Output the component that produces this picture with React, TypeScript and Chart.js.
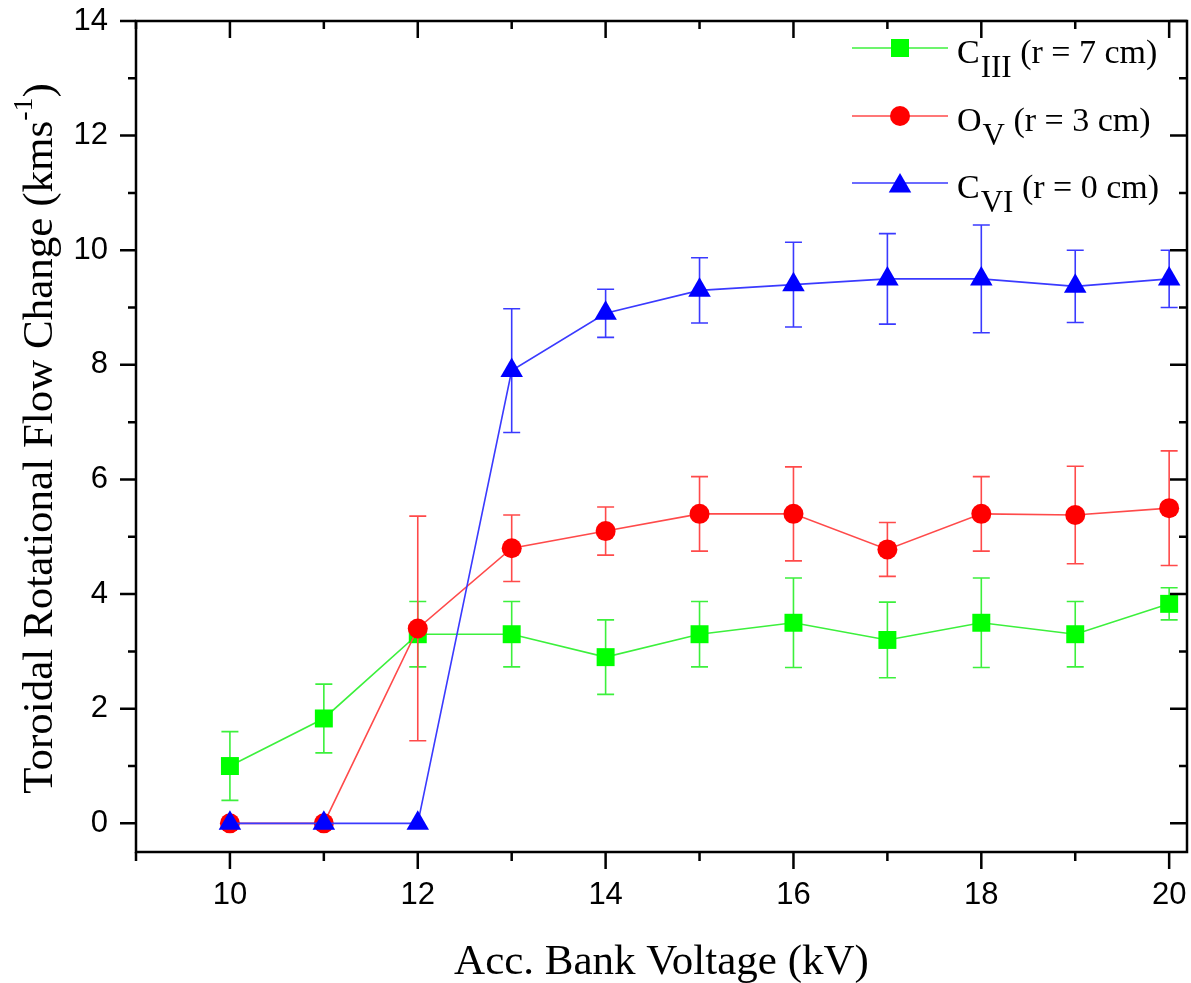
import React, { useEffect, useRef } from 'react';
import { Chart, registerables } from 'chart.js';

Chart.register(...registerables);

// ---------- data ----------
const voltages = [10, 11, 12, 13, 14, 15, 16, 17, 18, 19, 20];

const cIIIValues = [1.0, 1.83, 3.3, 3.3, 2.9, 3.3, 3.5, 3.2, 3.5, 3.3, 3.83];
const cIIIErrors = [0.6, 0.6, 0.57, 0.57, 0.65, 0.57, 0.78, 0.66, 0.78, 0.57, 0.28];

const oVValues = [0, 0, 3.4, 4.8, 5.1, 5.4, 5.4, 4.78, 5.4, 5.38, 5.5];
const oVErrors = [0, 0, 1.96, 0.58, 0.42, 0.65, 0.82, 0.47, 0.65, 0.85, 1.0];

const cVIValues = [0, 0, 0, 7.9, 8.9, 9.3, 9.4, 9.5, 9.5, 9.37, 9.5];
const cVIErrors = [0, 0, 0, 1.08, 0.42, 0.57, 0.74, 0.79, 0.94, 0.63, 0.5];

const xMajorTicks = [10, 12, 14, 16, 18, 20];
const xMinorTicks = [9, 11, 13, 15, 17, 19];
const yMajorTicks = [0, 2, 4, 6, 8, 10, 12, 14];
const yMinorTicks = [1, 3, 5, 7, 9, 11, 13];

const xAxisTitle = 'Acc. Bank Voltage (kV)';
const yTitleMain = 'Toroidal Rotational Flow Change (kms';
const yTitleSup = '-1';
const yTitleEnd = ')';

const legendBases = ['C', 'O', 'C'];
const legendSubs = ['III', 'V', 'VI'];
const legendRests = [' (r = 7 cm)', ' (r = 3 cm)', ' (r = 0 cm)'];

// ---------- styles ----------
const GREEN_LINE = '#3cf03c';
const RED_LINE = '#ff4a4a';
const BLUE_LINE = '#3a3aff';
const GREEN = '#00ff00';
const RED = '#ff0000';
const BLUE = '#0000ff';
const SERIF = '"Liberation Serif", "Times New Roman", serif';
const SANS = '"Liberation Sans", Arial, sans-serif';
const W = 1191;
const H = 983;

const toPoints = (ys: number[]) => voltages.map((x, i) => ({ x, y: ys[i] }));

const errorBarPlugin = {
  id: 'errorBars',
  beforeDatasetDraw(chart: any, args: any) {
    const ds = chart.data.datasets[args.index];
    const errs: number[] = ds.errors;
    if (!errs) return;
    const xs = chart.scales.x;
    const ys = chart.scales.y;
    const ctx = chart.ctx;
    const cap = 8.5;
    ctx.save();
    ctx.strokeStyle = ds.borderColor;
    ctx.lineWidth = 1.6;
    ds.data.forEach((p: any, i: number) => {
      const e = errs[i];
      if (!e) return;
      const px = xs.getPixelForValue(p.x);
      const top = ys.getPixelForValue(p.y + e);
      const bot = ys.getPixelForValue(p.y - e);
      ctx.beginPath();
      ctx.moveTo(px, top);
      ctx.lineTo(px, bot);
      ctx.moveTo(px - cap, top);
      ctx.lineTo(px + cap, top);
      ctx.moveTo(px - cap, bot);
      ctx.lineTo(px + cap, bot);
      ctx.stroke();
    });
    ctx.restore();
  },
};

function drawMarker(ctx: CanvasRenderingContext2D, kind: string, x: number, y: number, color: string) {
  ctx.fillStyle = color;
  ctx.beginPath();
  if (kind === 'rect') {
    ctx.rect(x - 9, y - 9, 18, 18);
  } else if (kind === 'circle') {
    ctx.arc(x, y, 10, 0, Math.PI * 2);
  } else {
    const r = 13;
    ctx.moveTo(x, y - r);
    ctx.lineTo(x + r * Math.sin((2 * Math.PI) / 3), y + r / 2);
    ctx.lineTo(x - r * Math.sin((2 * Math.PI) / 3), y + r / 2);
    ctx.closePath();
  }
  ctx.fill();
}

const framePlugin = {
  id: 'frameAndText',
  afterDraw(chart: any) {
    const ctx: CanvasRenderingContext2D = chart.ctx;
    const { left, right, top, bottom } = chart.chartArea;
    const xs = chart.scales.x;
    const ys = chart.scales.y;
    ctx.save();
    ctx.strokeStyle = '#000';
    ctx.lineWidth = 2.5;
    ctx.lineCap = 'butt';
    ctx.strokeRect(left, top, right - left, bottom - top);

    ctx.beginPath();
    const yTick = (v: number, major: boolean) => {
      const py = ys.getPixelForValue(v);
      const outL = major ? 16 : 8;
      const inR = major ? 17 : 8;
      ctx.moveTo(left - outL, py);
      ctx.lineTo(left, py);
      ctx.moveTo(right, py);
      ctx.lineTo(right - inR, py);
    };
    yMajorTicks.forEach((v) => yTick(v, true));
    yMinorTicks.forEach((v) => yTick(v, false));
    const xTick = (v: number, major: boolean) => {
      const px = xs.getPixelForValue(v);
      const outB = major ? 17 : 9;
      const inT = major ? 17 : 8;
      ctx.moveTo(px, bottom + outB);
      ctx.lineTo(px, bottom);
      ctx.moveTo(px, top);
      ctx.lineTo(px, top + inT);
    };
    xMajorTicks.forEach((v) => xTick(v, true));
    xMinorTicks.forEach((v) => xTick(v, false));
    ctx.stroke();

    // x axis title
    ctx.fillStyle = '#000';
    ctx.font = `43px ${SERIF}`;
    ctx.textAlign = 'center';
    ctx.textBaseline = 'alphabetic';
    ctx.fillText(xAxisTitle, (left + right) / 2, 974);

    // y axis title (rotated) with superscript
    const mainFont = `43px ${SERIF}`;
    const supFont = `28px ${SERIF}`;
    ctx.font = mainFont;
    const w1 = ctx.measureText(yTitleMain).width;
    const w3 = ctx.measureText(yTitleEnd).width;
    ctx.font = supFont;
    const w2 = ctx.measureText(yTitleSup).width;
    const total = w1 + w2 + w3;
    ctx.save();
    ctx.translate(52, (top + bottom) / 2 + 2);
    ctx.rotate(-Math.PI / 2);
    ctx.textAlign = 'left';
    let cx = -total / 2;
    ctx.font = mainFont;
    ctx.fillText(yTitleMain, cx, 0);
    cx += w1;
    ctx.font = supFont;
    ctx.fillText(yTitleSup, cx, -20);
    cx += w2;
    ctx.font = mainFont;
    ctx.fillText(yTitleEnd, cx, 0);
    ctx.restore();

    // legend
    const rowsY = [48, 116, 183];
    const lineColors = [GREEN_LINE, RED_LINE, BLUE_LINE];
    const markColors = [GREEN, RED, BLUE];
    const kinds = ['rect', 'circle', 'triangle'];
    rowsY.forEach((ry, i) => {
      ctx.strokeStyle = lineColors[i];
      ctx.lineWidth = 1.6;
      ctx.beginPath();
      ctx.moveTo(852, ry);
      ctx.lineTo(948, ry);
      ctx.stroke();
      drawMarker(ctx, kinds[i], 900, kinds[i] === 'triangle' ? ry + 3 : ry, markColors[i]);
      ctx.fillStyle = '#000';
      ctx.textAlign = 'left';
      ctx.textBaseline = 'alphabetic';
      let tx = 957;
      ctx.font = `34px ${SERIF}`;
      ctx.fillText(legendBases[i], tx, ry + 15);
      tx += ctx.measureText(legendBases[i]).width + 1;
      ctx.font = `31px ${SERIF}`;
      ctx.fillText(legendSubs[i], tx, ry + 29);
      tx += ctx.measureText(legendSubs[i]).width;
      ctx.font = `34px ${SERIF}`;
      ctx.fillText(legendRests[i], tx, ry + 15);
    });
    ctx.restore();
  },
};

const zeroPadding = (s: any) => {
  s.paddingTop = 0;
  s.paddingBottom = 0;
  s.paddingLeft = 0;
  s.paddingRight = 0;
};

export default function App() {
  const canvasRef = useRef<HTMLCanvasElement | null>(null);

  useEffect(() => {
    if (!canvasRef.current) return;
    const mk = (label: string, vals: number[], errs: number[], line: string, fill: string, style: string, radius: number, order: number) => ({
      label,
      data: toPoints(vals),
      errors: errs,
      showLine: true,
      borderColor: line,
      borderWidth: 1.6,
      backgroundColor: fill,
      pointBackgroundColor: fill,
      pointBorderColor: fill,
      pointBorderWidth: 0,
      pointStyle: style,
      pointRadius: radius,
      pointHoverRadius: radius,
      tension: 0,
      clip: false,
      order,
    });

    const chart = new Chart(canvasRef.current, {
      type: 'scatter',
      data: {
        datasets: [
          mk('C_III (r = 7 cm)', cIIIValues, cIIIErrors, GREEN_LINE, GREEN, 'rect', 12.7, 3),
          mk('O_V (r = 3 cm)', oVValues, oVErrors, RED_LINE, RED, 'circle', 10, 2),
          mk('C_VI (r = 0 cm)', cVIValues, cVIErrors, BLUE_LINE, BLUE, 'triangle', 13, 1),
        ] as any,
      },
      options: {
        animation: false,
        responsive: false,
        maintainAspectRatio: false,
        devicePixelRatio: 1,
        events: [],
        layout: { autoPadding: false, padding: { top: 21, right: 4, left: 0, bottom: 0 } },
        plugins: {
          legend: { display: false },
          tooltip: { enabled: false },
          title: { display: false },
        },
        scales: {
          x: {
            type: 'linear',
            min: 9,
            max: 20.19,
            grid: { display: false, drawTicks: false },
            border: { display: false },
            afterBuildTicks: (s: any) => {
              s.ticks = xMajorTicks.map((v) => ({ value: v }));
            },
            afterFit: (s: any) => {
              s.height = 131;
              zeroPadding(s);
            },
            ticks: {
              autoSkip: false,
              maxRotation: 0,
              padding: 25,
              color: '#000',
              font: { family: SANS, size: 31 },
            },
          },
          y: {
            type: 'linear',
            min: -0.5,
            max: 14,
            grid: { display: false, drawTicks: false },
            border: { display: false },
            afterBuildTicks: (s: any) => {
              s.ticks = yMajorTicks.map((v) => ({ value: v }));
            },
            afterFit: (s: any) => {
              s.width = 136;
              zeroPadding(s);
            },
            ticks: {
              autoSkip: false,
              padding: 28,
              color: '#000',
              font: { family: SANS, size: 31 },
            },
          },
        },
      } as any,
      plugins: [errorBarPlugin, framePlugin],
    });
    return () => chart.destroy();
  }, []);

  return (
    <div style={{ position: 'fixed', left: 0, top: 0, width: W, height: H, background: '#fff' }}>
      <canvas ref={canvasRef} width={W} height={H} style={{ display: 'block', width: W, height: H }} />
    </div>
  );
}
